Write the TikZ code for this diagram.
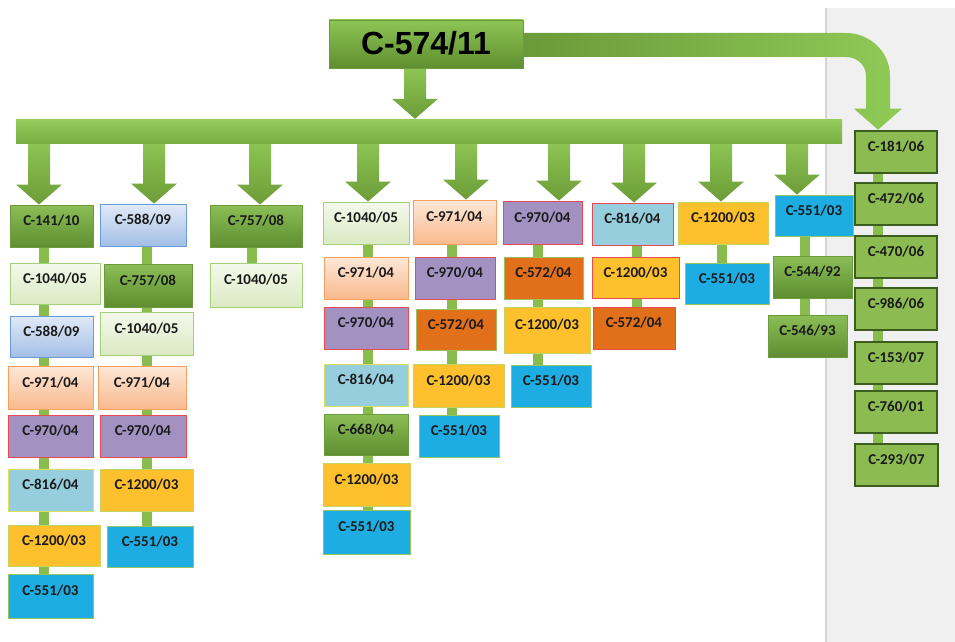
\documentclass[tikz,border=0pt]{standalone}
\usepackage{fontspec}
\usetikzlibrary{fit,calc}
\newfontfamily\calfont{Carlito}
\newfontfamily\titlefont{Liberation Sans}
\definecolor{txt}{HTML}{1B1B1B}
\definecolor{panel}{HTML}{F0F0F0}
\definecolor{panelEdge}{HTML}{D6D6D6}
\definecolor{dgT}{HTML}{8BBE57}
\definecolor{dgD}{HTML}{5E8E30}
\definecolor{dgB}{HTML}{6C9B3C}
\definecolor{lgT}{HTML}{F4F9EC}
\definecolor{lgD}{HTML}{DAEAC3}
\definecolor{lgB}{HTML}{A6CF7A}
\definecolor{lbT}{HTML}{E1EAF7}
\definecolor{lbD}{HTML}{A3BFE6}
\definecolor{lbB}{HTML}{6A9AD8}
\definecolor{peT}{HTML}{FDE7D7}
\definecolor{peD}{HTML}{F9BA8E}
\definecolor{peB}{HTML}{F5A05E}
\definecolor{puF}{HTML}{A391C2}
\definecolor{redB}{HTML}{EB4A50}
\definecolor{cyF}{HTML}{96CEDD}
\definecolor{yelB}{HTML}{DDE05C}
\definecolor{yoF}{HTML}{FEC02C}
\definecolor{yoB}{HTML}{C5D563}
\definecolor{blF}{HTML}{1EADE2}
\definecolor{blB}{HTML}{94C65B}
\definecolor{orF}{HTML}{E2701A}
\definecolor{orB}{HTML}{9DBF5B}
\definecolor{rpF}{HTML}{8CBB51}
\definecolor{rpB}{HTML}{3C5D1E}
\definecolor{lnk}{HTML}{88BD4E}
\definecolor{arT}{HTML}{8DC553}
\definecolor{arD}{HTML}{6C9C38}
\definecolor{barT}{HTML}{96CC5D}
\definecolor{barD}{HTML}{79AE43}
\definecolor{crL}{HTML}{6A9A39}
\definecolor{crR}{HTML}{8FCA56}
\pgfdeclarelayer{bg}
\pgfdeclarelayer{conn}
\pgfsetlayers{bg,conn,main}
\newcommand{\dnarrow}[3]{%
  \shade[arr] ($(#1.south -| #2)+(-11,-1)$) -- ($(#3.north -| #2)+(-11,-20)$)
    -- ($(#3.north -| #2)+(-23,-20)$) -- (#3.north -| #2)
    -- ($(#3.north -| #2)+(23,-20)$) -- ($(#3.north -| #2)+(11,-20)$)
    -- ($(#1.south -| #2)+(11,-1)$) -- cycle;}
\begin{document}
\begin{tikzpicture}[x=1pt,y=-1pt,
  bx/.style={draw, line width=0.9pt, inner sep=0pt, text=txt,
    font=\calfont\bfseries\fontsize{15}{15}\selectfont,
    text height=9.7pt, text depth=9.7pt},
  dg/.style={bx, draw=dgB, top color=dgT, bottom color=dgD},
  lg/.style={bx, draw=lgB, top color=lgT, bottom color=lgD},
  lb/.style={bx, draw=lbB, top color=lbT, bottom color=lbD},
  pe/.style={bx, draw=peB, top color=peT, bottom color=peD},
  pu/.style={bx, draw=redB, fill=puF},
  cy/.style={bx, draw=yelB, fill=cyF},
  cyr/.style={bx, draw=redB, fill=cyF},
  yo/.style={bx, draw=yoB, fill=yoF},
  yor/.style={bx, draw=redB, fill=yoF},
  bl/.style={bx, draw=blB, fill=blF},
  orn/.style={bx, draw=orB, fill=orF},
  orr/.style={bx, draw=redB, fill=orF},
  rp/.style={bx, draw=rpB, fill=rpF, line width=2.6pt},
  link/.style={line width=10pt, draw=lnk},
  arr/.style={top color=arT, bottom color=arD},
  titlebox/.style={draw=dgB, line width=0.8pt, inner sep=0pt, top color=arT, bottom color=dgD},
  titletext/.style={font=\titlefont\bfseries\fontsize{32}{32}\selectfont, text=black, inner sep=0pt, yshift=1pt},
]
\useasboundingbox (0,0) rectangle (955,642);
\begin{pgfonlayer}{bg}
  \fill[white] (0,0) rectangle (955,642);
  \fill[panel] (825,8) rectangle (955,642);
  \draw[panelEdge, line width=1.5pt] (825.75,8) -- (825.75,642);
\end{pgfonlayer}

% column x positions
\coordinate (cx1) at (44,0);  \coordinate (cx2) at (147,0);
\coordinate (cx3) at (252,0); \coordinate (cx4) at (368,0);
\coordinate (cx5) at (452,0); \coordinate (cx6) at (538,0);
\coordinate (cx7) at (637,0); \coordinate (cx8) at (722,0);
\coordinate (cx9) at (805,0); \coordinate (cx10) at (878,0);
\coordinate (ax0) at (415,0);
\coordinate (ax1) at (39,0);  \coordinate (ax2) at (154,0);
\coordinate (ax3) at (260,0); \coordinate (ax4) at (368,0);
\coordinate (ax5) at (466,0); \coordinate (ax6) at (559,0);
\coordinate (ax7) at (634,0); \coordinate (ax8) at (721,0);
\coordinate (ax9) at (797,0);

% top box and bar
\node[titlebox, fit={(329,20) (523,68)}, label={[titletext]center:C-574/11}] (top) {};
\node[inner sep=0pt, top color=barT, bottom color=barD, fit={(16,119) (842,143)}] (bar) {};

% column 1
\node[dg, fit={(10,205) (93,247)}] (a1) {C-141/10};
\node[lg, fit={(10,263) (100,304)}] (a2) {C-1040/05};
\node[lb, fit={(10,316) (93,357)}] (a3) {C-588/09};
\node[pe, fit={(8,366) (93,409)}] (a4) {C-971/04};
\node[pu, fit={(8,415) (93,457)}] (a5) {C-970/04};
\node[cy, fit={(8,469) (93,511)}] (a6) {C-816/04};
\node[yo, fit={(8,525) (100,566)}] (a7) {C-1200/03};
\node[bl, fit={(8,574) (93,618)}] (a8) {C-551/03};
% column 2
\node[lb, fit={(100,204) (186,246)}] (b1) {C-588/09};
\node[dg, fit={(104,264) (192,307)}] (b2) {C-757/08};
\node[lg, fit={(100,312) (193,355)}] (b3) {C-1040/05};
\node[pe, fit={(98,366) (186,409)}] (b4) {C-971/04};
\node[pu, fit={(100,415) (186,457)}] (b5) {C-970/04};
\node[yo, fit={(100,469) (193,511)}] (b6) {C-1200/03};
\node[bl, fit={(107,526) (193,567)}] (b7) {C-551/03};
% column 3
\node[dg, fit={(210,205) (302,247)}] (c1) {C-757/08};
\node[lg, fit={(210,263) (302,307)}] (c2) {C-1040/05};
% column 4
\node[lg, fit={(323,202) (409,244)}] (d1) {C-1040/05};
\node[pe, fit={(324,257) (408,299)}] (d2) {C-971/04};
\node[pu, fit={(324,307) (408,349)}] (d3) {C-970/04};
\node[cy, fit={(324,364) (408,406)}] (d4) {C-816/04};
\node[dg, fit={(324,414) (408,455)}] (d5) {C-668/04};
\node[yo, fit={(323,463) (410,506)}] (d6) {C-1200/03};
\node[bl, fit={(323,510) (410,554)}] (d7) {C-551/03};
% column 5
\node[pe, fit={(413,200) (496,244)}] (e1) {C-971/04};
\node[pu, fit={(415,257) (495,299)}] (e2) {C-970/04};
\node[orn, fit={(416,309) (496,350)}] (e3) {C-572/04};
\node[yo, fit={(413,364) (504,407)}] (e4) {C-1200/03};
\node[bl, fit={(419,415) (499,457)}] (e5) {C-551/03};
% column 6
\node[pu, fit={(503,201) (582,244)}] (f1) {C-970/04};
\node[orn, fit={(504,257) (583,299)}] (f2) {C-572/04};
\node[yo, fit={(504,307) (590,353)}] (f3) {C-1200/03};
\node[bl, fit={(511,365) (591,407)}] (f4) {C-551/03};
% column 7
\node[cyr, fit={(592,203) (673,245)}] (g1) {C-816/04};
\node[yor, fit={(592,257) (679,298)}] (g2) {C-1200/03};
\node[orr, fit={(593,307) (675,349)}] (g3) {C-572/04};
% column 8
\node[yo, fit={(678,202) (768,244)}] (h1) {C-1200/03};
\node[bl, fit={(685,263) (769,304)}] (h2) {C-551/03};
% column 9
\node[bl, fit={(775,195) (853,236)}] (i1) {C-551/03};
\node[dg, fit={(773,256) (852,298)}] (i2) {C-544/92};
\node[dg, fit={(768,315) (847,357)}] (i3) {C-546/93};
% column 10
\node[rp, fit={(855,131) (937,173)}] (j1) {C-181/06};
\node[rp, fit={(855,183) (937,225)}] (j2) {C-472/06};
\node[rp, fit={(855,236) (937,278)}] (j3) {C-470/06};
\node[rp, fit={(855,288) (937,330)}] (j4) {C-986/06};
\node[rp, fit={(855,342) (937,384)}] (j5) {C-153/07};
\node[rp, fit={(855,391) (937,433)}] (j6) {C-760/01};
\node[rp, fit={(855,444) (938,486)}] (j7) {C-293/07};

\begin{pgfonlayer}{conn}
  % vertical links
  \draw[link] (a1.center -| cx1) -- (a2.center -| cx1) -- (a3.center -| cx1) -- (a4.center -| cx1)
    -- (a5.center -| cx1) -- (a6.center -| cx1) -- (a7.center -| cx1) -- (a8.center -| cx1);
  \draw[link] (b1.center -| cx2) -- (b2.center -| cx2) -- (b3.center -| cx2) -- (b4.center -| cx2)
    -- (b5.center -| cx2) -- (b6.center -| cx2) -- (b7.center -| cx2);
  \draw[link] (c1.center -| cx3) -- (c2.center -| cx3);
  \draw[link] (d1.center -| cx4) -- (d2.center -| cx4) -- (d3.center -| cx4) -- (d4.center -| cx4)
    -- (d5.center -| cx4) -- (d6.center -| cx4) -- (d7.center -| cx4);
  \draw[link] (e1.center -| cx5) -- (e2.center -| cx5) -- (e3.center -| cx5) -- (e4.center -| cx5)
    -- (e5.center -| cx5);
  \draw[link] (f1.center -| cx6) -- (f2.center -| cx6) -- (f3.center -| cx6) -- (f4.center -| cx6);
  \draw[link] (g1.center -| cx7) -- (g2.center -| cx7) -- (g3.center -| cx7);
  \draw[link] (h1.center -| cx8) -- (h2.center -| cx8);
  \draw[link] (i1.center -| cx9) -- (i2.center -| cx9) -- (i3.center -| cx9);
  \draw[link] (j1.center -| cx10) -- (j2.center -| cx10) -- (j3.center -| cx10) -- (j4.center -| cx10)
    -- (j5.center -| cx10) -- (j6.center -| cx10) -- (j7.center -| cx10);
  % block arrows
  \dnarrow{top}{ax0}{bar}
  \dnarrow{bar}{ax1}{a1}
  \dnarrow{bar}{ax2}{b1}
  \dnarrow{bar}{ax3}{c1}
  \dnarrow{bar}{ax4}{d1}
  \dnarrow{bar}{ax5}{e1}
  \dnarrow{bar}{ax6}{f1}
  \dnarrow{bar}{ax7}{g1}
  \dnarrow{bar}{ax8}{h1}
  \dnarrow{bar}{ax9}{i1}
  % curved arrow
  \shade[left color=crL, right color=crR]
    ($(top.east)+(-1,-11)$) -- (846,33) .. controls (870,33) and (890,52) .. (890,76)
    -- ($(j1.north -| cx10)+(12,-21)$) -- ($(j1.north -| cx10)+(24,-21)$)
    -- (j1.north -| cx10) -- ($(j1.north -| cx10)+(-24,-21)$)
    -- ($(j1.north -| cx10)+(-12,-21)$) -- (866,76) .. controls (866,65) and (857,57) .. (846,57)
    -- ($(top.east)+(-1,13)$) -- cycle;
\end{pgfonlayer}
\end{tikzpicture}
\end{document}
